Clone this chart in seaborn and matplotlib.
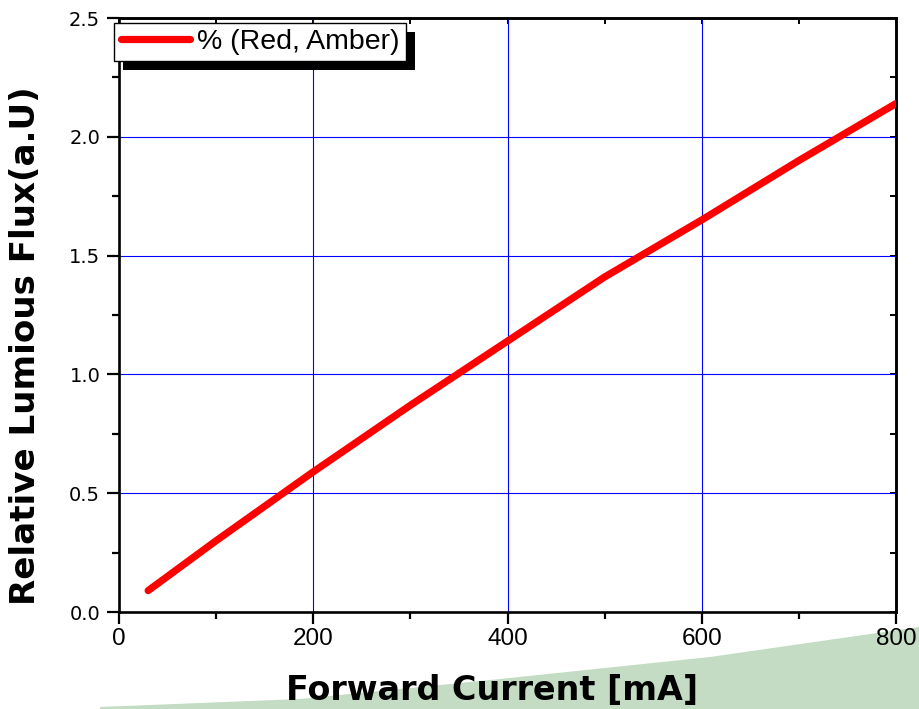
import matplotlib
matplotlib.use("Agg")
import matplotlib.pyplot as plt
import seaborn as sns
import pandas as pd
from matplotlib.patches import Rectangle, Polygon
from matplotlib.ticker import MultipleLocator, FormatStrFormatter

# ---- data ----
current_ma = [30, 100, 200, 300, 400, 500, 600, 700, 800]
rel_flux = [0.09, 0.30, 0.59, 0.87, 1.14, 1.41, 1.65, 1.90, 2.14]
series_name = "% (Red, Amber)"
x_label = "Forward Current [mA]"
y_label = "Relative Lumious Flux(a.U)"

df = pd.DataFrame({"current": current_ma, "flux": rel_flux, "series": series_name})

sns.set_style("ticks")
plt.rcParams["font.family"] = ["Liberation Sans", "DejaVu Sans"]
plt.rcParams["text.color"] = "black"
plt.rcParams["axes.labelcolor"] = "black"
plt.rcParams["xtick.color"] = "black"
plt.rcParams["ytick.color"] = "black"

W, H, DPI = 919, 709, 100
fig = plt.figure(figsize=(W / DPI, H / DPI), dpi=DPI)
fig.patch.set_facecolor("white")

# decorative green wedge at the bottom (figure pixel space)
wedge_px = [(100, 709), (100, 707), (300, 699), (500, 679), (710, 657), (919, 627), (919, 709)]
wedge = Polygon([(x / W, 1 - y / H) for x, y in wedge_px], closed=True,
                transform=fig.transFigure, facecolor="#c4dcc4", edgecolor="none", zorder=-1)
fig.patches.append(wedge)

ax = fig.add_axes([119 / W, (H - 612) / H, (896 - 119) / W, (612 - 18) / H])
ax.set_facecolor("white")

sns.lineplot(data=df, x="current", y="flux", hue="series", palette=["#ff0000"],
             linewidth=5.2, ax=ax, zorder=3, solid_capstyle="round")

ax.set_xlim(0, 800)
ax.set_ylim(0, 2.5)
ax.xaxis.set_major_locator(MultipleLocator(200))
ax.xaxis.set_minor_locator(MultipleLocator(100))
ax.yaxis.set_major_locator(MultipleLocator(0.5))
ax.yaxis.set_minor_locator(MultipleLocator(0.25))
ax.yaxis.set_major_formatter(FormatStrFormatter("%.1f"))

ax.grid(True, which="major", color="#0000ff", linewidth=0.8, zorder=1)
ax.set_axisbelow(True)

for s in ax.spines.values():
    s.set_visible(True)
    s.set_linewidth(1.9)
    s.set_color("black")

ax.tick_params(axis="both", which="major", direction="out", length=8.5, width=1.6,
               colors="black", top=False, right=False)
ax.tick_params(axis="both", which="minor", direction="out", length=5, width=1.6,
               colors="black", top=False, right=False)
ax.tick_params(axis="x", which="major", pad=3, labelsize=17.5, labelfontfamily="Liberation Sans")
ax.tick_params(axis="y", which="major", pad=5, labelsize=14, labelfontfamily="DejaVu Sans")

# inward ticks on top and right
sec_x = ax.secondary_xaxis("top")
sec_x.xaxis.set_major_locator(MultipleLocator(100))
sec_x.tick_params(direction="in", length=4, width=1.4, labeltop=False)
sec_x.set_xticklabels([])
sec_x.spines["top"].set_linewidth(1.9)
sec_y = ax.secondary_yaxis("right")
sec_y.yaxis.set_major_locator(MultipleLocator(0.25))
sec_y.tick_params(direction="in", length=4, width=1.4, labelright=False)
sec_y.set_yticklabels([])
sec_y.spines["right"].set_linewidth(1.9)

ax.set_xlabel(x_label, fontfamily="DejaVu Sans", fontweight="bold", fontsize=24)
ax.set_ylabel(y_label, fontfamily="DejaVu Sans", fontweight="bold", fontsize=24.6)
ax.xaxis.set_label_coords((492 - 119) / 777, (612 - 674) / 594)
ax.yaxis.set_label_coords((42 - 119) / 777, (612 - 346) / 594)

leg = ax.legend(loc="upper left", bbox_to_anchor=(-0.006, 0.992), borderaxespad=0,
                frameon=True, fancybox=False, edgecolor="black", framealpha=1,
                prop={"family": "Liberation Sans", "size": 20.5},
                handlelength=2.45, handletextpad=0.25, borderpad=0.22)
leg.get_frame().set_linewidth(1.0)
for h in leg.get_lines():
    h.set_linewidth(5.2)
    h.set_solid_capstyle("round")
leg.set_zorder(6)

fig.canvas.draw()
bb = leg.get_window_extent()
inv = ax.transAxes.inverted()
(x0, y0) = inv.transform((bb.x0 + 9, bb.y0 - 9))
(x1, y1) = inv.transform((bb.x1 + 9, bb.y1 - 9))
shadow = Rectangle((x0, y0), x1 - x0, y1 - y0, transform=ax.transAxes,
                   facecolor="black", edgecolor="none", zorder=5.5, clip_on=False)
ax.add_patch(shadow)

fig.savefig("out.png", dpi=DPI)
